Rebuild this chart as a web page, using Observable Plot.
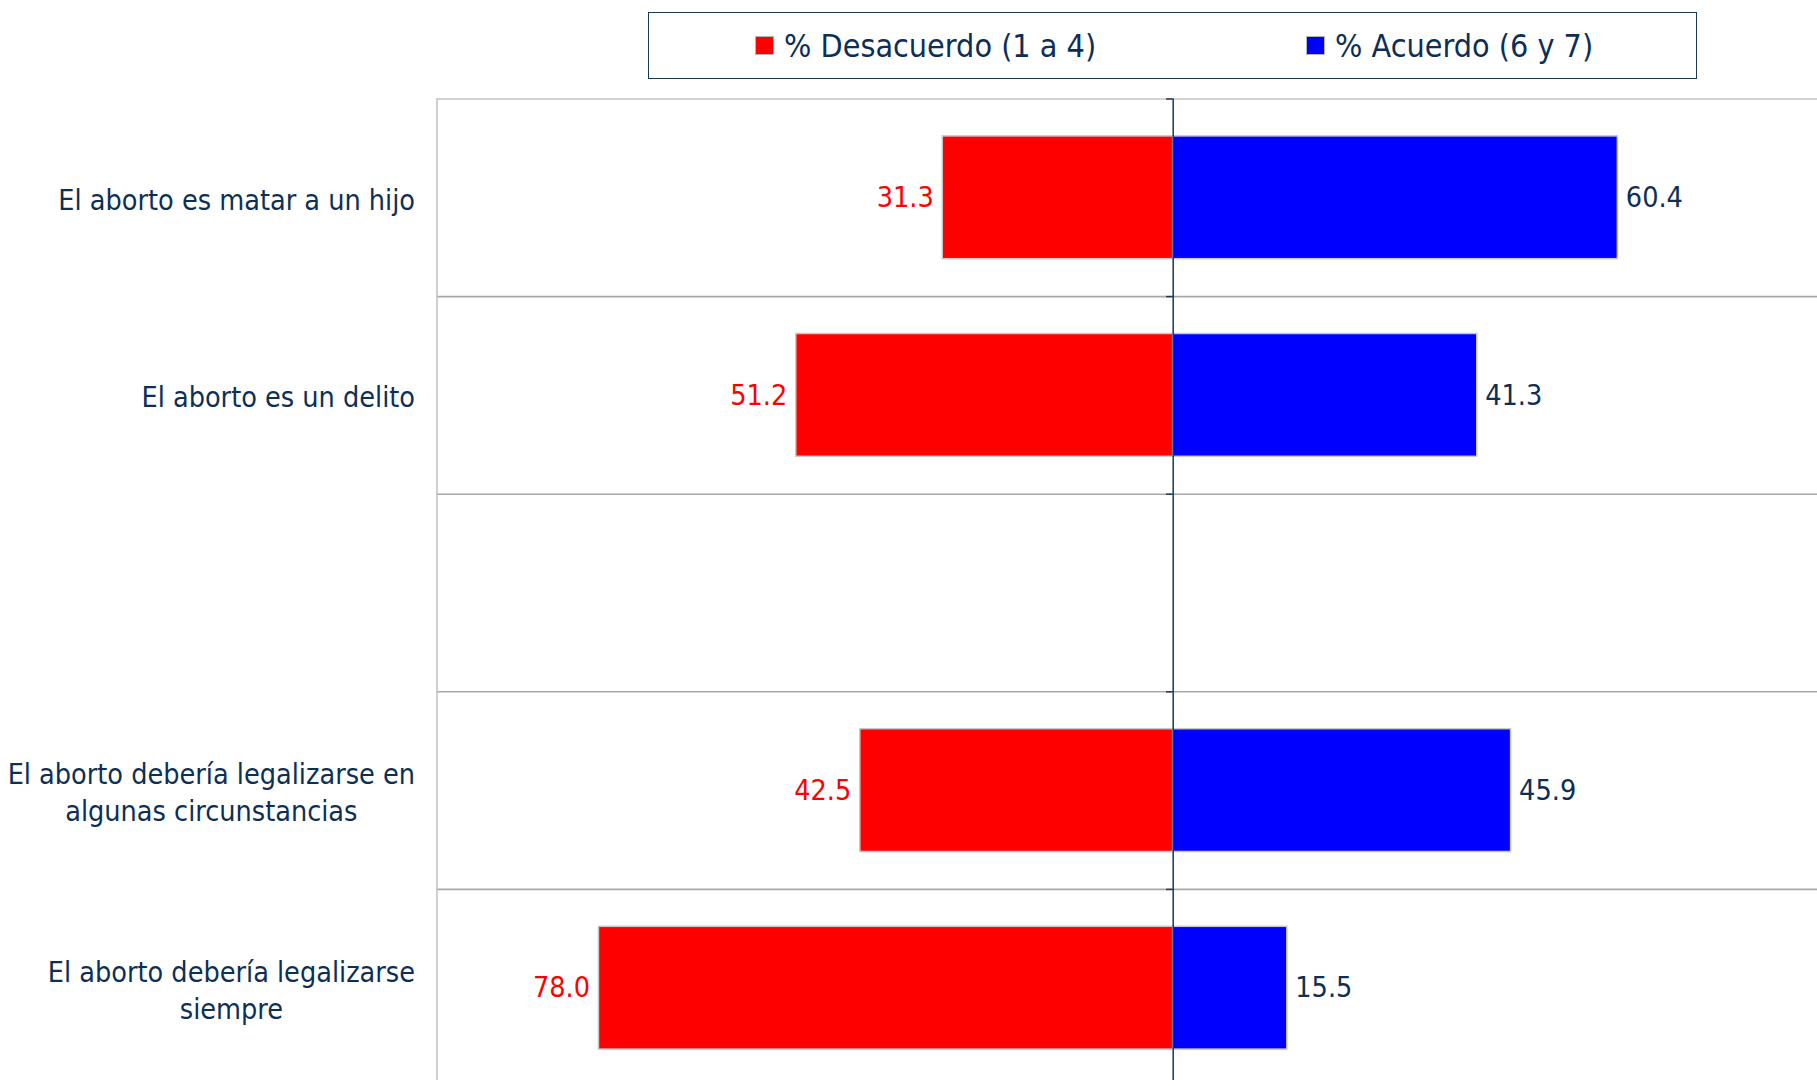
<!DOCTYPE html>
<html>
<head>
<meta charset="utf-8">
<script src="https://cdn.jsdelivr.net/npm/d3@7"></script>
<script src="https://cdn.jsdelivr.net/npm/@observablehq/plot@0.6"></script>
<style>
  html, body { margin: 0; padding: 0; background: #fff; overflow: hidden; }
  body { width: 1817px; height: 1080px; font-family: "DejaVu Sans Condensed", "DejaVu Sans", sans-serif; }
  #legend { position: relative; height: 90px; width: 1817px; }
  #legend .box { position: absolute; left: 648px; top: 12px; width: 1049px; height: 67px; box-sizing: border-box; border: 1.5px solid #1a3a52; }
  #legend .item { position: absolute; top: 0; height: 100%; display: flex; align-items: center; font-size: 32px; color: #0d2f55; white-space: nowrap; }
  #legend .sw { width: 17px; height: 17px; border: 1px solid #b5b5b5; margin-right: 10px; }
  #chart svg { display: block; overflow: visible; }
</style>
</head>
<body>
<div id="legend"><div class="box"></div></div>
<div id="chart"></div>
<script>
// ---- data ----
const categories = [
  "El aborto es matar a un hijo",
  "El aborto es un delito",
  "",
  "El aborto debería legalizarse en algunas circunstancias",
  "El aborto debería legalizarse siempre"
];
const tickLabels = [
  "El aborto es matar a un hijo",
  "El aborto es un delito",
  "",
  "El aborto debería legalizarse en\nalgunas circunstancias",
  "El aborto debería legalizarse\nsiempre"
];
const desacuerdo = [31.3, 51.2, null, 42.5, 78.0];
const acuerdo = [60.4, 41.3, null, 45.9, 15.5];
const seriesNames = ["% Desacuerdo (1 a 4)", "% Acuerdo (6 y 7)"];
const seriesColors = ["#ff0000", "#0000ff"];

// ---- styles ----
const navy = "#0d2f55";
const axisNavy = "#17375e";
const fontSize = 28.5;

// legend
const box = document.querySelector("#legend .box");
const itemLeft = [106, 657];
seriesNames.forEach((name, k) => {
  const it = document.createElement("div");
  it.className = "item";
  it.style.left = itemLeft[k] + "px";
  const sw = document.createElement("div");
  sw.className = "sw";
  sw.style.background = seriesColors[k];
  const t = document.createElement("span");
  t.textContent = name;
  it.appendChild(sw); it.appendChild(t);
  box.appendChild(it);
});

const rows = categories.map((c, i) => ({i, c, label: tickLabels[i], des: desacuerdo[i], acu: acuerdo[i]}));
const filled = rows.filter(d => d.des != null);
const n = categories.length;

const chart = Plot.plot({
  width: 1817,
  height: 990,
  margin: 0,
  x: {domain: [-100, 100], range: [436.5, 1908.9], axis: null},
  y: {domain: [0, n], range: [8.5, 996.5], axis: null},
  style: {fontFamily: "'DejaVu Sans Condensed', 'DejaVu Sans', sans-serif", background: "white", overflow: "visible"},
  marks: [
    Plot.ruleY(d3.range(1, n), {x1: -100, x2: 100, stroke: "#a8a8a8", strokeWidth: 1.6}),
    Plot.ruleY([0], {x1: -100, x2: 100, stroke: "#c4c4c4", strokeWidth: 1.6}),
    Plot.ruleX([-100], {y1: 0, y2: n, stroke: "#c4c4c4", strokeWidth: 1.6}),
    Plot.rect(filled, {x1: d => -d.des, x2: 0, y1: d => d.i, y2: d => d.i + 1, insetTop: 37.4, insetBottom: 37.4, fill: seriesColors[0], stroke: "#c8c8c8", strokeWidth: 1.5}),
    Plot.rect(filled, {x1: 0, x2: d => d.acu, y1: d => d.i, y2: d => d.i + 1, insetTop: 37.4, insetBottom: 37.4, fill: seriesColors[1], stroke: "#c8c8c8", strokeWidth: 1.5}),
    Plot.ruleX([0], {y1: 0, y2: n, stroke: axisNavy, strokeWidth: 1.5}),
    Plot.ruleY(d3.range(0, n), {x1: -0.9, x2: 0, stroke: axisNavy, strokeWidth: 1.5}),
    Plot.text(filled, {x: d => -d.des, y: d => d.i + 0.5, text: d => d.des.toFixed(1), textAnchor: "end", dx: -9, fill: seriesColors[0], fontSize}),
    Plot.text(filled, {x: d => d.acu, y: d => d.i + 0.5, text: d => d.acu.toFixed(1), textAnchor: "start", dx: 8, fill: navy, fontSize}),
    Plot.text(rows, {x: -100, y: d => d.i + 0.5, text: d => d.label, textAnchor: "end", dx: -22, fill: navy, fontSize, lineHeight: 1.3, className: "catlabels"})
  ]
});
document.getElementById("chart").appendChild(chart);

// center multi-line labels within their block (block stays right-aligned)
d3.select(chart).selectAll(".catlabels text").each(function() {
  const tspans = this.querySelectorAll("tspan");
  if (tspans.length > 1) {
    const W = d3.max(Array.from(tspans), t => t.getComputedTextLength());
    tspans.forEach(t => { t.setAttribute("x", -W / 2); t.setAttribute("text-anchor", "middle"); });
  }
});
</script>
</body>
</html>
